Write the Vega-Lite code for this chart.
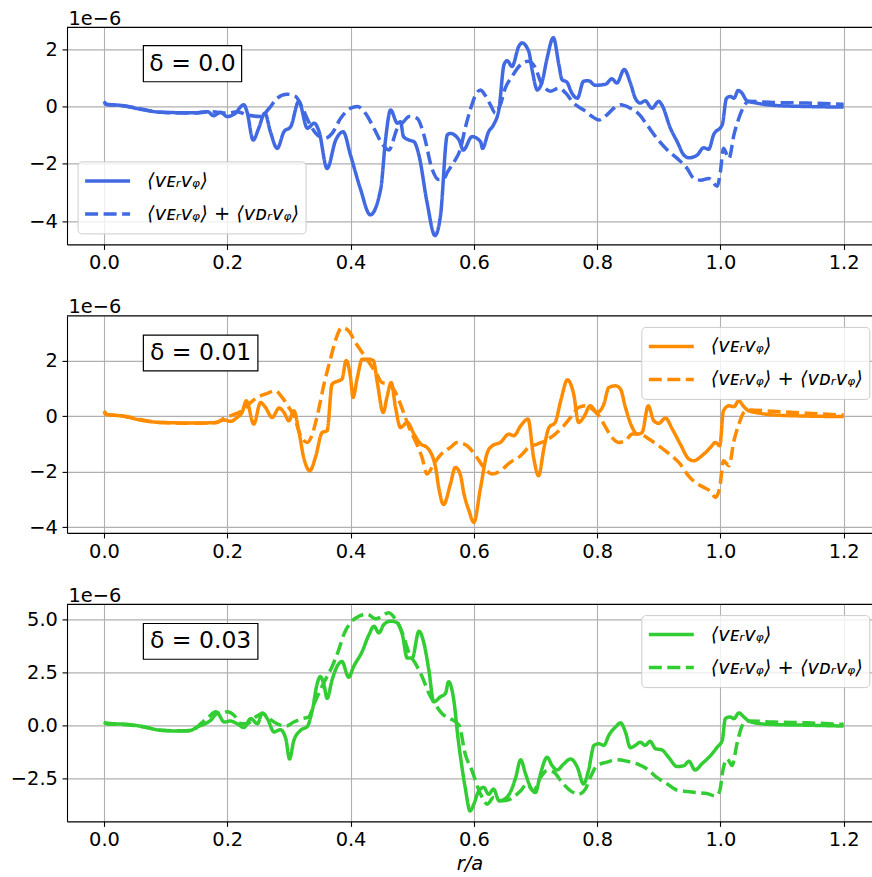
{
"$schema": "https://vega.github.io/schema/vega-lite/v6.json",
"padding": {"left": 10, "top": 8.4, "right": 0, "bottom": 5},
"spacing": 71.5,
"bounds": "flush",
"resolve": {"scale": {"strokeDash": "independent"}, "legend": {"strokeDash": "independent"}},
"datasets": {
"d0": [
{"s":"E","r":0,"v":0.13},{"s":"E","r":0.005,"v":0.08},{"s":"E","r":0.027,"v":0.04},{"s":"E","r":0.065,"v":-0.12},{"s":"E","r":0.092,"v":-0.2},{"s":"E","r":0.146,"v":-0.22},{"s":"E","r":0.168,"v":-0.18},{"s":"E","r":0.178,"v":-0.32},{"s":"E","r":0.189,"v":-0.2},{"s":"E","r":0.2,"v":-0.35},{"s":"E","r":0.211,"v":-0.27},{"s":"E","r":0.227,"v":0.06},{"s":"E","r":0.232,"v":-0.18},{"s":"E","r":0.242,"v":-1.17},{"s":"E","r":0.251,"v":-0.76},{"s":"E","r":0.261,"v":-0.23},{"s":"E","r":0.27,"v":-0.88},{"s":"E","r":0.281,"v":-1.46},{"s":"E","r":0.292,"v":-0.88},{"s":"E","r":0.303,"v":-0.7},{"s":"E","r":0.316,"v":0.18},{"s":"E","r":0.33,"v":-0.76},{"s":"E","r":0.341,"v":-0.58},{"s":"E","r":0.349,"v":-0.88},{"s":"E","r":0.362,"v":-2.16},{"s":"E","r":0.376,"v":-1.17},{"s":"E","r":0.388,"v":-0.88},{"s":"E","r":0.4,"v":-1.7},{"s":"E","r":0.416,"v":-2.87},{"s":"E","r":0.432,"v":-3.78},{"s":"E","r":0.449,"v":-2.87},{"s":"E","r":0.457,"v":-1.11},{"s":"E","r":0.465,"v":-0.12},{"s":"E","r":0.476,"v":-0.58},{"s":"E","r":0.481,"v":-0.53},{"s":"E","r":0.486,"v":-1.05},{"s":"E","r":0.495,"v":-1.17},{"s":"E","r":0.503,"v":-1.23},{"s":"E","r":0.511,"v":-1.7},{"s":"E","r":0.524,"v":-3.33},{"s":"E","r":0.537,"v":-4.5},{"s":"E","r":0.546,"v":-3.8},{"s":"E","r":0.557,"v":-0.99},{"s":"E","r":0.562,"v":-0.94},{"s":"E","r":0.576,"v":-1.17},{"s":"E","r":0.583,"v":-1.52},{"s":"E","r":0.597,"v":-1.05},{"s":"E","r":0.611,"v":-1.23},{"s":"E","r":0.614,"v":-1.46},{"s":"E","r":0.624,"v":-0.88},{"s":"E","r":0.632,"v":-0.64},{"s":"E","r":0.641,"v":-0.06},{"s":"E","r":0.649,"v":1.46},{"s":"E","r":0.654,"v":1.6},{"s":"E","r":0.662,"v":1.4},{"s":"E","r":0.673,"v":2.1},{"s":"E","r":0.678,"v":2.22},{"s":"E","r":0.689,"v":1.93},{"s":"E","r":0.695,"v":1.23},{"s":"E","r":0.703,"v":0.58},{"s":"E","r":0.711,"v":0.88},{"s":"E","r":0.719,"v":1.7},{"s":"E","r":0.729,"v":2.4},{"s":"E","r":0.738,"v":1.46},{"s":"E","r":0.743,"v":0.94},{"s":"E","r":0.751,"v":0.85},{"s":"E","r":0.759,"v":0.47},{"s":"E","r":0.768,"v":0.29},{"s":"E","r":0.778,"v":0.88},{"s":"E","r":0.786,"v":0.9},{"s":"E","r":0.797,"v":0.74},{"s":"E","r":0.814,"v":0.78},{"s":"E","r":0.824,"v":0.97},{"s":"E","r":0.832,"v":0.82},{"s":"E","r":0.844,"v":1.29},{"s":"E","r":0.854,"v":0.82},{"s":"E","r":0.862,"v":0.29},{"s":"E","r":0.87,"v":0.12},{"s":"E","r":0.878,"v":0.2},{"s":"E","r":0.889,"v":-0.06},{"s":"E","r":0.9,"v":0.18},{"s":"E","r":0.905,"v":0.06},{"s":"E","r":0.919,"v":-0.76},{"s":"E","r":0.93,"v":-1.23},{"s":"E","r":0.941,"v":-1.7},{"s":"E","r":0.949,"v":-1.79},{"s":"E","r":0.962,"v":-1.7},{"s":"E","r":0.973,"v":-1.44},{"s":"E","r":0.981,"v":-1.49},{"s":"E","r":0.989,"v":-0.99},{"s":"E","r":1.003,"v":-0.64},{"s":"E","r":1.01,"v":0.29},{"s":"E","r":1.016,"v":0.35},{"s":"E","r":1.022,"v":0.29},{"s":"E","r":1.029,"v":0.56},{"s":"E","r":1.035,"v":0.47},{"s":"E","r":1.043,"v":0.2},{"s":"E","r":1.059,"v":0.12},{"s":"E","r":1.086,"v":0.04},{"s":"E","r":1.141,"v":0},{"s":"E","r":1.2,"v":-0.02},
{"s":"ED","r":0,"v":0.18},{"s":"ED","r":0.005,"v":0.06},{"s":"ED","r":0.027,"v":0.04},{"s":"ED","r":0.092,"v":-0.2},{"s":"ED","r":0.146,"v":-0.23},{"s":"ED","r":0.173,"v":-0.18},{"s":"ED","r":0.2,"v":-0.23},{"s":"ED","r":0.216,"v":-0.18},{"s":"ED","r":0.232,"v":-0.29},{"s":"ED","r":0.254,"v":-0.35},{"s":"ED","r":0.268,"v":-0.06},{"s":"ED","r":0.281,"v":0.29},{"s":"ED","r":0.297,"v":0.43},{"s":"ED","r":0.311,"v":0.35},{"s":"ED","r":0.322,"v":-0.06},{"s":"ED","r":0.332,"v":-0.53},{"s":"ED","r":0.346,"v":-0.99},{"s":"ED","r":0.359,"v":-1.11},{"s":"ED","r":0.37,"v":-0.94},{"s":"ED","r":0.384,"v":-0.41},{"s":"ED","r":0.4,"v":-0.06},{"s":"ED","r":0.411,"v":0},{"s":"ED","r":0.424,"v":-0.23},{"s":"ED","r":0.438,"v":-0.76},{"s":"ED","r":0.451,"v":-1.29},{"s":"ED","r":0.462,"v":-1.52},{"s":"ED","r":0.476,"v":-0.76},{"s":"ED","r":0.486,"v":-0.53},{"s":"ED","r":0.495,"v":-0.35},{"s":"ED","r":0.508,"v":-0.41},{"s":"ED","r":0.519,"v":-0.99},{"s":"ED","r":0.532,"v":-2.16},{"s":"ED","r":0.543,"v":-2.55},{"s":"ED","r":0.552,"v":-2.5},{"s":"ED","r":0.557,"v":-2.3},{"s":"ED","r":0.568,"v":-1.93},{"s":"ED","r":0.578,"v":-1.5},{"s":"ED","r":0.586,"v":-0.76},{"s":"ED","r":0.595,"v":-0.06},{"s":"ED","r":0.603,"v":0.41},{"s":"ED","r":0.611,"v":0.58},{"s":"ED","r":0.616,"v":0.47},{"s":"ED","r":0.627,"v":0.06},{"s":"ED","r":0.635,"v":-0.23},{"s":"ED","r":0.643,"v":0.06},{"s":"ED","r":0.651,"v":0.64},{"s":"ED","r":0.662,"v":1.05},{"s":"ED","r":0.676,"v":1.46},{"s":"ED","r":0.688,"v":1.58},{"s":"ED","r":0.7,"v":1.35},{"s":"ED","r":0.708,"v":0.88},{"s":"ED","r":0.716,"v":0.64},{"s":"ED","r":0.724,"v":0.53},{"s":"ED","r":0.738,"v":0.64},{"s":"ED","r":0.749,"v":0.47},{"s":"ED","r":0.762,"v":0.12},{"s":"ED","r":0.778,"v":-0.12},{"s":"ED","r":0.792,"v":-0.35},{"s":"ED","r":0.803,"v":-0.47},{"s":"ED","r":0.816,"v":-0.29},{"s":"ED","r":0.827,"v":-0.06},{"s":"ED","r":0.838,"v":0.06},{"s":"ED","r":0.854,"v":-0.06},{"s":"ED","r":0.868,"v":-0.27},{"s":"ED","r":0.881,"v":-0.64},{"s":"ED","r":0.897,"v":-1.11},{"s":"ED","r":0.914,"v":-1.52},{"s":"ED","r":0.93,"v":-1.81},{"s":"ED","r":0.946,"v":-2.16},{"s":"ED","r":0.957,"v":-2.51},{"s":"ED","r":0.968,"v":-2.57},{"s":"ED","r":0.981,"v":-2.51},{"s":"ED","r":0.995,"v":-2.78},{"s":"ED","r":1.0,"v":-2.28},{"s":"ED","r":1.005,"v":-1.46},{"s":"ED","r":1.014,"v":-1.81},{"s":"ED","r":1.022,"v":-0.99},{"s":"ED","r":1.03,"v":-0.41},{"s":"ED","r":1.038,"v":0},{"s":"ED","r":1.046,"v":0.18},{"s":"ED","r":1.086,"v":0.14},{"s":"ED","r":1.141,"v":0.12},{"s":"ED","r":1.2,"v":0.08}
],
"d1": [
{"s":"E","r":0,"v":0.13},{"s":"E","r":0.005,"v":0.05},{"s":"E","r":0.027,"v":0.01},{"s":"E","r":0.065,"v":-0.17},{"s":"E","r":0.092,"v":-0.23},{"s":"E","r":0.146,"v":-0.25},{"s":"E","r":0.178,"v":-0.24},{"s":"E","r":0.195,"v":-0.14},{"s":"E","r":0.205,"v":-0.19},{"s":"E","r":0.216,"v":-0.05},{"s":"E","r":0.224,"v":0.13},{"s":"E","r":0.231,"v":0.55},{"s":"E","r":0.243,"v":-0.29},{"s":"E","r":0.254,"v":0.49},{"s":"E","r":0.262,"v":0.31},{"s":"E","r":0.273,"v":-0.05},{"s":"E","r":0.284,"v":0.29},{"s":"E","r":0.292,"v":0.13},{"s":"E","r":0.3,"v":-0.17},{"s":"E","r":0.308,"v":0.19},{"s":"E","r":0.316,"v":-0.53},{"s":"E","r":0.324,"v":-1.49},{"s":"E","r":0.334,"v":-1.97},{"s":"E","r":0.343,"v":-1.49},{"s":"E","r":0.354,"v":-0.59},{"s":"E","r":0.362,"v":-0.53},{"s":"E","r":0.37,"v":1.15},{"s":"E","r":0.378,"v":1.25},{"s":"E","r":0.386,"v":1.33},{"s":"E","r":0.393,"v":2.0},{"s":"E","r":0.4,"v":1.39},{"s":"E","r":0.404,"v":0.67},{"s":"E","r":0.411,"v":1.39},{"s":"E","r":0.419,"v":2.05},{"s":"E","r":0.43,"v":2.05},{"s":"E","r":0.437,"v":2.0},{"s":"E","r":0.443,"v":1.27},{"s":"E","r":0.453,"v":0.13},{"s":"E","r":0.459,"v":0.67},{"s":"E","r":0.466,"v":1.21},{"s":"E","r":0.473,"v":0.31},{"s":"E","r":0.481,"v":-0.41},{"s":"E","r":0.492,"v":-0.23},{"s":"E","r":0.503,"v":-0.65},{"s":"E","r":0.514,"v":-1.01},{"s":"E","r":0.524,"v":-1.13},{"s":"E","r":0.538,"v":-1.85},{"s":"E","r":0.543,"v":-2.57},{"s":"E","r":0.551,"v":-3.19},{"s":"E","r":0.562,"v":-2.45},{"s":"E","r":0.57,"v":-1.85},{"s":"E","r":0.578,"v":-2.1},{"s":"E","r":0.584,"v":-2.8},{"s":"E","r":0.592,"v":-3.4},{"s":"E","r":0.6,"v":-3.83},{"s":"E","r":0.611,"v":-2.57},{"s":"E","r":0.622,"v":-1.31},{"s":"E","r":0.63,"v":-1.07},{"s":"E","r":0.643,"v":-0.95},{"s":"E","r":0.657,"v":-0.65},{"s":"E","r":0.665,"v":-0.71},{"s":"E","r":0.676,"v":-0.35},{"s":"E","r":0.688,"v":-0.11},{"s":"E","r":0.697,"v":-1.49},{"s":"E","r":0.705,"v":-2.15},{"s":"E","r":0.714,"v":-1.13},{"s":"E","r":0.722,"v":-0.41},{"s":"E","r":0.732,"v":-0.23},{"s":"E","r":0.741,"v":0.55},{"s":"E","r":0.752,"v":1.31},{"s":"E","r":0.762,"v":0.79},{"s":"E","r":0.77,"v":-0.23},{"s":"E","r":0.778,"v":-0.05},{"s":"E","r":0.789,"v":0.37},{"s":"E","r":0.8,"v":0.13},{"s":"E","r":0.811,"v":0.43},{"s":"E","r":0.819,"v":1.03},{"s":"E","r":0.83,"v":1.09},{"s":"E","r":0.838,"v":0.97},{"s":"E","r":0.846,"v":0.31},{"s":"E","r":0.857,"v":-0.41},{"s":"E","r":0.865,"v":-0.65},{"s":"E","r":0.873,"v":-0.59},{"s":"E","r":0.883,"v":0.37},{"s":"E","r":0.892,"v":-0.17},{"s":"E","r":0.9,"v":-0.26},{"s":"E","r":0.911,"v":-0.07},{"s":"E","r":0.922,"v":-0.47},{"s":"E","r":0.935,"v":-1.01},{"s":"E","r":0.949,"v":-1.55},{"s":"E","r":0.957,"v":-1.61},{"s":"E","r":0.97,"v":-1.43},{"s":"E","r":0.984,"v":-1.13},{"s":"E","r":0.992,"v":-0.95},{"s":"E","r":0.999,"v":-1.07},{"s":"E","r":1.005,"v":0.19},{"s":"E","r":1.014,"v":0.37},{"s":"E","r":1.022,"v":0.34},{"s":"E","r":1.03,"v":0.55},{"s":"E","r":1.038,"v":0.34},{"s":"E","r":1.046,"v":0.19},{"s":"E","r":1.065,"v":0.1},{"s":"E","r":1.086,"v":0.04},{"s":"E","r":1.141,"v":0},{"s":"E","r":1.2,"v":-0.02},
{"s":"ED","r":0,"v":0.19},{"s":"ED","r":0.005,"v":0.06},{"s":"ED","r":0.027,"v":0.01},{"s":"ED","r":0.092,"v":-0.23},{"s":"ED","r":0.146,"v":-0.26},{"s":"ED","r":0.184,"v":-0.23},{"s":"ED","r":0.195,"v":-0.07},{"s":"ED","r":0.205,"v":0.01},{"s":"ED","r":0.224,"v":0.19},{"s":"ED","r":0.241,"v":0.55},{"s":"ED","r":0.254,"v":0.73},{"s":"ED","r":0.265,"v":0.82},{"s":"ED","r":0.278,"v":0.91},{"s":"ED","r":0.289,"v":0.67},{"s":"ED","r":0.3,"v":0.31},{"s":"ED","r":0.308,"v":0.01},{"s":"ED","r":0.319,"v":-0.71},{"s":"ED","r":0.33,"v":-0.95},{"s":"ED","r":0.338,"v":-0.65},{"s":"ED","r":0.346,"v":0.01},{"s":"ED","r":0.357,"v":1.15},{"s":"ED","r":0.368,"v":2.11},{"s":"ED","r":0.377,"v":2.83},{"s":"ED","r":0.386,"v":3.19},{"s":"ED","r":0.397,"v":3.07},{"s":"ED","r":0.408,"v":2.65},{"s":"ED","r":0.419,"v":2.29},{"s":"ED","r":0.43,"v":1.93},{"s":"ED","r":0.441,"v":1.57},{"s":"ED","r":0.451,"v":1.21},{"s":"ED","r":0.462,"v":1.15},{"s":"ED","r":0.473,"v":0.85},{"s":"ED","r":0.484,"v":0.25},{"s":"ED","r":0.495,"v":-0.41},{"s":"ED","r":0.505,"v":-0.89},{"s":"ED","r":0.516,"v":-1.49},{"s":"ED","r":0.524,"v":-2.09},{"s":"ED","r":0.535,"v":-1.73},{"s":"ED","r":0.546,"v":-1.4},{"s":"ED","r":0.562,"v":-1.13},{"s":"ED","r":0.573,"v":-0.95},{"s":"ED","r":0.589,"v":-1.07},{"s":"ED","r":0.605,"v":-1.49},{"s":"ED","r":0.616,"v":-1.85},{"s":"ED","r":0.63,"v":-2.09},{"s":"ED","r":0.643,"v":-1.97},{"s":"ED","r":0.659,"v":-1.67},{"s":"ED","r":0.676,"v":-1.43},{"s":"ED","r":0.689,"v":-1.13},{"s":"ED","r":0.703,"v":-1.01},{"s":"ED","r":0.716,"v":-0.89},{"s":"ED","r":0.732,"v":-0.65},{"s":"ED","r":0.746,"v":-0.35},{"s":"ED","r":0.759,"v":0.01},{"s":"ED","r":0.77,"v":0.31},{"s":"ED","r":0.781,"v":0.37},{"s":"ED","r":0.792,"v":0.25},{"s":"ED","r":0.803,"v":0.01},{"s":"ED","r":0.814,"v":-0.41},{"s":"ED","r":0.824,"v":-0.77},{"s":"ED","r":0.835,"v":-0.95},{"s":"ED","r":0.846,"v":-0.89},{"s":"ED","r":0.857,"v":-0.65},{"s":"ED","r":0.87,"v":-0.65},{"s":"ED","r":0.884,"v":-0.83},{"s":"ED","r":0.9,"v":-1.07},{"s":"ED","r":0.914,"v":-1.31},{"s":"ED","r":0.924,"v":-1.49},{"s":"ED","r":0.935,"v":-1.73},{"s":"ED","r":0.946,"v":-2.09},{"s":"ED","r":0.959,"v":-2.39},{"s":"ED","r":0.973,"v":-2.57},{"s":"ED","r":0.984,"v":-2.71},{"s":"ED","r":0.992,"v":-2.93},{"s":"ED","r":0.999,"v":-2.57},{"s":"ED","r":1.005,"v":-1.61},{"s":"ED","r":1.014,"v":-1.79},{"s":"ED","r":1.022,"v":-0.89},{"s":"ED","r":1.03,"v":-0.29},{"s":"ED","r":1.038,"v":0.13},{"s":"ED","r":1.046,"v":0.22},{"s":"ED","r":1.086,"v":0.17},{"s":"ED","r":1.141,"v":0.1},{"s":"ED","r":1.2,"v":0.04}
],
"d3": [
{"s":"E","r":0,"v":0.13},{"s":"E","r":0.016,"v":0.09},{"s":"E","r":0.038,"v":0.06},{"s":"E","r":0.065,"v":-0.06},{"s":"E","r":0.092,"v":-0.22},{"s":"E","r":0.119,"v":-0.25},{"s":"E","r":0.141,"v":-0.22},{"s":"E","r":0.151,"v":-0.06},{"s":"E","r":0.162,"v":0.06},{"s":"E","r":0.173,"v":0.25},{"s":"E","r":0.184,"v":0.57},{"s":"E","r":0.195,"v":0.17},{"s":"E","r":0.205,"v":0.22},{"s":"E","r":0.216,"v":0.09},{"s":"E","r":0.227,"v":-0.09},{"s":"E","r":0.238,"v":0.33},{"s":"E","r":0.249,"v":0.09},{"s":"E","r":0.257,"v":0.6},{"s":"E","r":0.265,"v":0.33},{"s":"E","r":0.276,"v":-0.3},{"s":"E","r":0.286,"v":-0.19},{"s":"E","r":0.295,"v":-0.62},{"s":"E","r":0.301,"v":-1.57},{"s":"E","r":0.308,"v":-0.7},{"s":"E","r":0.319,"v":-0.22},{"s":"E","r":0.33,"v":-0.03},{"s":"E","r":0.338,"v":0.73},{"s":"E","r":0.346,"v":1.99},{"s":"E","r":0.351,"v":2.31},{"s":"E","r":0.357,"v":1.91},{"s":"E","r":0.362,"v":1.28},{"s":"E","r":0.37,"v":2.15},{"s":"E","r":0.378,"v":2.78},{"s":"E","r":0.386,"v":3.02},{"s":"E","r":0.397,"v":2.28},{"s":"E","r":0.405,"v":2.78},{"s":"E","r":0.419,"v":3.5},{"s":"E","r":0.43,"v":4.29},{"s":"E","r":0.438,"v":4.68},{"s":"E","r":0.446,"v":4.37},{"s":"E","r":0.454,"v":4.76},{"s":"E","r":0.465,"v":4.92},{"s":"E","r":0.476,"v":4.84},{"s":"E","r":0.484,"v":4.29},{"s":"E","r":0.492,"v":3.18},{"s":"E","r":0.5,"v":3.18},{"s":"E","r":0.511,"v":4.45},{"s":"E","r":0.519,"v":3.89},{"s":"E","r":0.527,"v":2.63},{"s":"E","r":0.535,"v":1.12},{"s":"E","r":0.546,"v":1.36},{"s":"E","r":0.554,"v":1.52},{"s":"E","r":0.559,"v":2.07},{"s":"E","r":0.568,"v":1.1},{"s":"E","r":0.574,"v":-0.5},{"s":"E","r":0.58,"v":-1.8},{"s":"E","r":0.586,"v":-2.91},{"s":"E","r":0.594,"v":-4.02},{"s":"E","r":0.6,"v":-3.7},{"s":"E","r":0.608,"v":-3.07},{"s":"E","r":0.616,"v":-2.91},{"s":"E","r":0.624,"v":-3.23},{"s":"E","r":0.632,"v":-2.99},{"s":"E","r":0.641,"v":-3.54},{"s":"E","r":0.649,"v":-3.47},{"s":"E","r":0.659,"v":-3.15},{"s":"E","r":0.668,"v":-2.44},{"s":"E","r":0.676,"v":-1.61},{"s":"E","r":0.684,"v":-2.28},{"s":"E","r":0.692,"v":-2.91},{"s":"E","r":0.7,"v":-3.15},{"s":"E","r":0.708,"v":-2.28},{"s":"E","r":0.719,"v":-1.49},{"s":"E","r":0.727,"v":-1.88},{"s":"E","r":0.735,"v":-2.09},{"s":"E","r":0.746,"v":-1.8},{"s":"E","r":0.757,"v":-1.57},{"s":"E","r":0.768,"v":-1.96},{"s":"E","r":0.778,"v":-2.75},{"s":"E","r":0.786,"v":-2.12},{"s":"E","r":0.795,"v":-0.93},{"s":"E","r":0.803,"v":-0.85},{"s":"E","r":0.811,"v":-0.93},{"s":"E","r":0.819,"v":-0.46},{"s":"E","r":0.83,"v":-0.06},{"s":"E","r":0.838,"v":0.13},{"s":"E","r":0.846,"v":-0.3},{"s":"E","r":0.854,"v":-1.04},{"s":"E","r":0.862,"v":-0.93},{"s":"E","r":0.87,"v":-0.78},{"s":"E","r":0.878,"v":-0.93},{"s":"E","r":0.886,"v":-0.74},{"s":"E","r":0.895,"v":-1.09},{"s":"E","r":0.905,"v":-1.14},{"s":"E","r":0.916,"v":-1.49},{"s":"E","r":0.93,"v":-1.93},{"s":"E","r":0.941,"v":-1.88},{"s":"E","r":0.949,"v":-1.68},{"s":"E","r":0.959,"v":-2.09},{"s":"E","r":0.97,"v":-1.8},{"s":"E","r":0.984,"v":-1.41},{"s":"E","r":0.995,"v":-1.01},{"s":"E","r":1.003,"v":-0.7},{"s":"E","r":1.008,"v":0.33},{"s":"E","r":1.016,"v":0.41},{"s":"E","r":1.022,"v":0.33},{"s":"E","r":1.03,"v":0.6},{"s":"E","r":1.038,"v":0.41},{"s":"E","r":1.046,"v":0.22},{"s":"E","r":1.065,"v":0.09},{"s":"E","r":1.086,"v":0.05},{"s":"E","r":1.141,"v":0.02},{"s":"E","r":1.2,"v":-0.02},
{"s":"ED","r":0,"v":0.17},{"s":"ED","r":0.005,"v":0.08},{"s":"ED","r":0.027,"v":0.06},{"s":"ED","r":0.065,"v":-0.06},{"s":"ED","r":0.092,"v":-0.22},{"s":"ED","r":0.141,"v":-0.25},{"s":"ED","r":0.157,"v":0.09},{"s":"ED","r":0.17,"v":0.41},{"s":"ED","r":0.181,"v":0.65},{"s":"ED","r":0.189,"v":0.57},{"s":"ED","r":0.2,"v":0.65},{"s":"ED","r":0.211,"v":0.49},{"s":"ED","r":0.222,"v":0.09},{"s":"ED","r":0.232,"v":0.09},{"s":"ED","r":0.246,"v":0.41},{"s":"ED","r":0.257,"v":0.57},{"s":"ED","r":0.268,"v":0.33},{"s":"ED","r":0.281,"v":0.09},{"s":"ED","r":0.295,"v":-0.03},{"s":"ED","r":0.308,"v":0.17},{"s":"ED","r":0.322,"v":0.33},{"s":"ED","r":0.332,"v":0.41},{"s":"ED","r":0.341,"v":1.04},{"s":"ED","r":0.351,"v":1.68},{"s":"ED","r":0.359,"v":2.15},{"s":"ED","r":0.37,"v":2.78},{"s":"ED","r":0.381,"v":3.58},{"s":"ED","r":0.389,"v":4.29},{"s":"ED","r":0.4,"v":4.84},{"s":"ED","r":0.414,"v":5.16},{"s":"ED","r":0.427,"v":5.24},{"s":"ED","r":0.441,"v":5.03},{"s":"ED","r":0.451,"v":5.16},{"s":"ED","r":0.462,"v":5.32},{"s":"ED","r":0.473,"v":5.0},{"s":"ED","r":0.484,"v":4.37},{"s":"ED","r":0.495,"v":3.42},{"s":"ED","r":0.505,"v":2.94},{"s":"ED","r":0.516,"v":2.31},{"s":"ED","r":0.527,"v":1.52},{"s":"ED","r":0.538,"v":0.97},{"s":"ED","r":0.549,"v":0.55},{"s":"ED","r":0.562,"v":0.33},{"s":"ED","r":0.576,"v":0.02},{"s":"ED","r":0.586,"v":-1.33},{"s":"ED","r":0.597,"v":-2.12},{"s":"ED","r":0.611,"v":-3.23},{"s":"ED","r":0.622,"v":-3.7},{"s":"ED","r":0.632,"v":-3.39},{"s":"ED","r":0.643,"v":-3.54},{"s":"ED","r":0.654,"v":-3.51},{"s":"ED","r":0.665,"v":-3.35},{"s":"ED","r":0.676,"v":-3.07},{"s":"ED","r":0.686,"v":-2.75},{"s":"ED","r":0.697,"v":-3.07},{"s":"ED","r":0.708,"v":-2.44},{"s":"ED","r":0.719,"v":-2.12},{"s":"ED","r":0.73,"v":-2.2},{"s":"ED","r":0.743,"v":-2.67},{"s":"ED","r":0.757,"v":-3.07},{"s":"ED","r":0.77,"v":-3.23},{"s":"ED","r":0.781,"v":-2.99},{"s":"ED","r":0.789,"v":-2.44},{"s":"ED","r":0.8,"v":-1.88},{"s":"ED","r":0.816,"v":-1.72},{"s":"ED","r":0.832,"v":-1.61},{"s":"ED","r":0.849,"v":-1.68},{"s":"ED","r":0.865,"v":-1.8},{"s":"ED","r":0.881,"v":-2.04},{"s":"ED","r":0.897,"v":-2.44},{"s":"ED","r":0.914,"v":-2.75},{"s":"ED","r":0.93,"v":-3.04},{"s":"ED","r":0.946,"v":-3.1},{"s":"ED","r":0.962,"v":-3.15},{"s":"ED","r":0.978,"v":-3.2},{"s":"ED","r":0.992,"v":-3.31},{"s":"ED","r":0.999,"v":-3.07},{"s":"ED","r":1.004,"v":-2.12},{"s":"ED","r":1.011,"v":-1.57},{"s":"ED","r":1.019,"v":-1.88},{"s":"ED","r":1.027,"v":-0.85},{"s":"ED","r":1.035,"v":-0.03},{"s":"ED","r":1.043,"v":0.22},{"s":"ED","r":1.086,"v":0.17},{"s":"ED","r":1.141,"v":0.13},{"s":"ED","r":1.2,"v":0.06}
]
},
"vconcat": [
{
"width": 805, "height": 217,
"layer": [
{"data": {"name": "d0"},
 "mark": {"type": "line", "color": "#4169E1", "strokeWidth": 3.5, "interpolate": "monotone", "clip": true},
 "encoding": {
  "x": {"field": "r", "type": "quantitative", "scale": {"domain": [-0.06, 1.246], "nice": false, "zero": false}, "axis": {"values": [0, 0.2, 0.4, 0.6, 0.8, 1.0, 1.2], "format": ".1f", "title": null}},
  "y": {"field": "v", "type": "quantitative", "scale": {"domain": [-4.81, 2.76], "nice": false, "zero": false}, "axis": {"values": [-4, -2, 0, 2], "format": "d", "title": "1e−6", "titleAngle": 0, "titleAlign": "left", "titleBaseline": "alphabetic", "titleX": 1, "titleY": -3}},
  "strokeDash": {"field": "s", "type": "nominal", "scale": {"domain": ["E", "ED"], "range": [[1, 0], [13, 5.5]]},
   "legend": {"title": null, "orient": "none", "legendX": 10.6, "legendY": 134, "symbolStrokeColor": "#4169E1", "labelExpr": "datum.value == 'E' ? '⟨vᴇᵣvᵩ⟩' : '⟨vᴇᵣvᵩ⟩ + ⟨vᴅᵣvᵩ⟩'"}}
 }},
{"data": {"values": [{}]}, "mark": {"type": "rule", "color": "black", "strokeWidth": 1.1}, "encoding": {"y": {"datum": 2.76, "type": "quantitative"}}},
{"data": {"values": [{}]}, "mark": {"type": "rect", "fill": "white", "stroke": "black", "strokeWidth": 1.2},
 "encoding": {"x": {"datum": 0.0639, "type": "quantitative"}, "x2": {"datum": 0.2233}, "y": {"datum": 2.122, "type": "quantitative"}, "y2": {"datum": 0.864}}},
{"data": {"values": [{}]}, "mark": {"type": "text", "text": "δ = 0.0", "fontSize": 23.5, "font": "DejaVu Sans", "color": "black", "baseline": "middle", "align": "center"},
 "encoding": {"x": {"datum": 0.1436, "type": "quantitative"}, "y": {"datum": 1.493, "type": "quantitative"}}}
]
},
{
"width": 805, "height": 217,
"layer": [
{"data": {"name": "d1"},
 "mark": {"type": "line", "color": "#FF8C00", "strokeWidth": 3.5, "interpolate": "monotone", "clip": true},
 "encoding": {
  "x": {"field": "r", "type": "quantitative", "scale": {"domain": [-0.06, 1.246], "nice": false, "zero": false}, "axis": {"values": [0, 0.2, 0.4, 0.6, 0.8, 1.0, 1.2], "format": ".1f", "title": null}},
  "y": {"field": "v", "type": "quantitative", "scale": {"domain": [-4.21, 3.61], "nice": false, "zero": false}, "axis": {"values": [-4, -2, 0, 2], "format": "d", "title": "1e−6", "titleAngle": 0, "titleAlign": "left", "titleBaseline": "alphabetic", "titleX": 1, "titleY": -3}},
  "strokeDash": {"field": "s", "type": "nominal", "scale": {"domain": ["E", "ED"], "range": [[1, 0], [13, 5.5]]},
   "legend": {"title": null, "orient": "none", "legendX": 574.3, "legendY": 11, "symbolStrokeColor": "#FF8C00", "labelExpr": "datum.value == 'E' ? '⟨vᴇᵣvᵩ⟩' : '⟨vᴇᵣvᵩ⟩ + ⟨vᴅᵣvᵩ⟩'"}}
 }},
{"data": {"values": [{}]}, "mark": {"type": "rule", "color": "black", "strokeWidth": 1.1}, "encoding": {"y": {"datum": 3.61, "type": "quantitative"}}},
{"data": {"values": [{}]}, "mark": {"type": "rect", "fill": "white", "stroke": "black", "strokeWidth": 1.2},
 "encoding": {"x": {"datum": 0.0639, "type": "quantitative"}, "x2": {"datum": 0.2497}, "y": {"datum": 2.914, "type": "quantitative"}, "y2": {"datum": 1.629}}},
{"data": {"values": [{}]}, "mark": {"type": "text", "text": "δ = 0.01", "fontSize": 23.5, "font": "DejaVu Sans", "color": "black", "baseline": "middle", "align": "center"},
 "encoding": {"x": {"datum": 0.1568, "type": "quantitative"}, "y": {"datum": 2.27, "type": "quantitative"}}}
]
},
{
"width": 805, "height": 217,
"layer": [
{"data": {"name": "d3"},
 "mark": {"type": "line", "color": "#32CD32", "strokeWidth": 3.5, "interpolate": "monotone", "clip": true},
 "encoding": {
  "x": {"field": "r", "type": "quantitative", "scale": {"domain": [-0.06, 1.246], "nice": false, "zero": false}, "axis": {"values": [0, 0.2, 0.4, 0.6, 0.8, 1.0, 1.2], "format": ".1f", "title": "r/a", "titleFontStyle": "italic", "titlePadding": 5}},
  "y": {"field": "v", "type": "quantitative", "scale": {"domain": [-4.51, 5.71], "nice": false, "zero": false}, "axis": {"values": [-2.5, 0, 2.5, 5], "format": ".1f", "title": "1e−6", "titleAngle": 0, "titleAlign": "left", "titleBaseline": "alphabetic", "titleX": 1, "titleY": -3}},
  "strokeDash": {"field": "s", "type": "nominal", "scale": {"domain": ["E", "ED"], "range": [[1, 0], [13, 5.5]]},
   "legend": {"title": null, "orient": "none", "legendX": 574.3, "legendY": 10.7, "symbolStrokeColor": "#32CD32", "labelExpr": "datum.value == 'E' ? '⟨vᴇᵣvᵩ⟩' : '⟨vᴇᵣvᵩ⟩ + ⟨vᴅᵣvᵩ⟩'"}}
 }},
{"data": {"values": [{}]}, "mark": {"type": "rule", "color": "black", "strokeWidth": 1.1}, "encoding": {"y": {"datum": 5.71, "type": "quantitative"}}},
{"data": {"values": [{}]}, "mark": {"type": "rect", "fill": "white", "stroke": "black", "strokeWidth": 1.2},
 "encoding": {"x": {"datum": 0.0639, "type": "quantitative"}, "x2": {"datum": 0.2497}, "y": {"datum": 4.811, "type": "quantitative"}, "y2": {"datum": 3.127}}},
{"data": {"values": [{}]}, "mark": {"type": "text", "text": "δ = 0.03", "fontSize": 23.5, "font": "DejaVu Sans", "color": "black", "baseline": "middle", "align": "center"},
 "encoding": {"x": {"datum": 0.1568, "type": "quantitative"}, "y": {"datum": 3.97, "type": "quantitative"}}}
]
}
],
"config": {
 "font": "DejaVu Sans",
 "view": {"stroke": null},
 "axis": {"labelFont": "DejaVu Sans", "labelFontSize": 19.4, "labelColor": "black", "tickColor": "black", "tickSize": 5, "tickWidth": 1.1, "domainColor": "black", "domainWidth": 1.1, "grid": true, "gridColor": "#b0b0b0", "gridWidth": 1.1, "labelPadding": 4.6, "titleFont": "DejaVu Sans", "titleFontSize": 19.4, "titleFontWeight": "normal", "titleColor": "black"},
 "legend": {"labelFont": "DejaVu Sans", "labelFontSize": 19.4, "labelFontStyle": "italic", "labelColor": "black", "symbolType": "stroke", "symbolSize": 2025, "symbolStrokeWidth": 3.5, "labelOffset": 15, "clipHeight": 28, "rowPadding": 5, "padding": 5.5, "fillColor": "rgba(255,255,255,0.8)", "strokeColor": "#cccccc", "cornerRadius": 4, "labelLimit": 400}
}
}
